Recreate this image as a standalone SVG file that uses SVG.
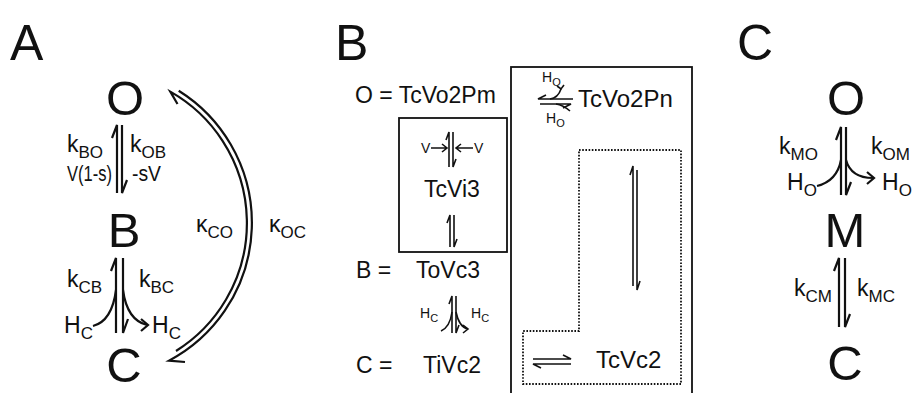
<svg xmlns="http://www.w3.org/2000/svg" width="912" height="393" viewBox="0 0 912 393">
<style>
.ln{fill:none;stroke:#111;stroke-width:2.2;stroke-linecap:butt;stroke-linejoin:miter}
.thin{fill:none;stroke:#111;stroke-width:1.6}
.t{font-family:"Liberation Sans",Arial,sans-serif;fill:#111}
.big{font-size:50px}
.node{font-size:49px}
.lab{font-size:23px}
.sub{font-size:17px}
.vs{font-size:22px}
.sm{font-size:14px}
.smsub{font-size:11px}
.mid{font-size:23px}
.box{fill:none;stroke:#111;stroke-width:1.8}
.dot{fill:none;stroke:#111;stroke-width:1.8;stroke-dasharray:1.6 1.6}
</style>
<rect width="912" height="393" fill="#fff"/>

<!-- Panel labels -->
<text class="t big" x="10" y="60">A</text>
<text class="t big" x="335" y="60">B</text>
<text class="t big" x="737" y="60">C</text>

<!-- Panel A nodes -->
<g id="A_O"><text class="t node" x="125" y="115" text-anchor="middle">O</text></g>
<g id="A_B"><text class="t node" x="124" y="247" text-anchor="middle">B</text></g>
<g id="A_C"><text class="t node" x="124" y="382" text-anchor="middle">C</text></g>

<!-- Panel A labels -->
<g id="A_labels">
<text class="t lab" x="67" y="152">k<tspan class="sub" dy="6">BO</tspan></text>
<text class="t lab" x="130" y="152">k<tspan class="sub" dy="6">OB</tspan></text>
<text class="t vs" x="67" y="181" textLength="45" lengthAdjust="spacingAndGlyphs">V(1-s)</text>
<text class="t vs" x="132" y="181" textLength="29" lengthAdjust="spacingAndGlyphs">-sV</text>
<text class="t lab" x="67" y="287">k<tspan class="sub" dy="6">CB</tspan></text>
<text class="t lab" x="139" y="287">k<tspan class="sub" dy="6">BC</tspan></text>
<text class="t lab" x="64" y="333">H<tspan class="sub" dy="6">C</tspan></text>
<text class="t lab" x="152" y="333">H<tspan class="sub" dy="6">C</tspan></text>
<text class="t lab" x="196" y="232">κ<tspan class="sub" dy="6">CO</tspan></text>
<text class="t lab" x="269" y="232">κ<tspan class="sub" dy="6">OC</tspan></text>
</g>

<!-- Panel B texts/nodes -->
<g id="B_O"><text class="t mid" x="355" y="103">O = TcVo2Pm</text></g>
<g id="B_Pn"><text class="t mid" x="578" y="107" style="font-size:24px">TcVo2Pn</text></g>
<g id="B_Vi3">
<rect class="box" x="399" y="118" width="108" height="134"/>
<text class="t mid" x="452" y="197" text-anchor="middle">TcVi3</text>
<text class="t sm" x="421" y="153">V</text>
<text class="t sm" x="474" y="153">V</text>
</g>
<g id="B_B"><text class="t mid" x="356" y="278">B =</text><text class="t mid" x="416" y="278">ToVc3</text></g>
<g id="B_C"><text class="t mid" x="356" y="373">C =</text><text class="t mid" x="423" y="373">TiVc2</text></g>
<g id="B_Vc2"><text class="t mid" x="596" y="368" style="font-size:24px">TcVc2</text></g>
<g id="B_box">
<rect class="box" x="511" y="67" width="181" height="345"/>
<path class="dot" d="M579 150 H681 V384 H523 V331 H579 Z"/>
</g>
<g id="B_labels">
<text class="t sm" x="420" y="318">H<tspan class="smsub" dy="4">C</tspan></text>
<text class="t sm" x="471" y="318">H<tspan class="smsub" dy="4">C</tspan></text>
<text class="t sm" x="542" y="82">H<tspan class="smsub" dy="4">O</tspan></text>
<text class="t sm" x="546" y="123">H<tspan class="smsub" dy="4">O</tspan></text>
</g>

<!-- Panel C -->
<g id="C_O"><text class="t node" x="846" y="115" text-anchor="middle">O</text></g>
<g id="C_M"><text class="t node" x="845" y="247" text-anchor="middle">M</text></g>
<g id="C_C"><text class="t node" x="845" y="380" text-anchor="middle">C</text></g>
<g id="C_labels">
<text class="t lab" x="779" y="154">k<tspan class="sub" dy="6">MO</tspan></text>
<text class="t lab" x="871" y="154">k<tspan class="sub" dy="6">OM</tspan></text>
<text class="t lab" x="787" y="190">H<tspan class="sub" dy="6">O</tspan></text>
<text class="t lab" x="882" y="190">H<tspan class="sub" dy="6">O</tspan></text>
<text class="t lab" x="794" y="296">k<tspan class="sub" dy="6">CM</tspan></text>
<text class="t lab" x="857" y="296">k<tspan class="sub" dy="6">MC</tspan></text>
</g>

<!-- Connectors -->
<g id="connectors">
<!-- A: O <-> B -->
<path class="ln" d="M117 193 V125 L112 138"/>
<path class="ln" d="M122 125 V193 L127 180"/>
<!-- A: B <-> C -->
<path class="ln" d="M116 333 V258 L111 271"/>
<path class="ln" d="M123 258 V333 L128 319"/>
<path class="ln" d="M93 326 Q112 321 116 290"/>
<path class="ln" d="M123 290 Q127 320 147 325"/>
<path class="ln" d="M141 319 L148 325 L141 331"/>
<!-- A: arcs O <-> C -->
<path class="ln" d="M178.7 90.7 A156 156 0 0 1 169 360.7 L185 362"/>
<path class="ln" d="M176 351 A151 151 0 0 0 170.3 91.6 L177.5 104"/>

<!-- B: small box upper pair with V arrows -->
<path class="thin" d="M449 167 V132 L446 140"/>
<path class="thin" d="M453 132 V167 L456 159"/>
<path class="thin" d="M431 148 H447 M442 144 L447 148 L442 152"/>
<path class="thin" d="M473 148 H456 M461 144 L456 148 L461 152"/>
<!-- B: small box lower pair -->
<path class="thin" d="M450 247 V215 L447 223"/>
<path class="thin" d="M454 215 V247 L457 239"/>
<!-- B: B <-> C with H_C -->
<path class="thin" d="M452 333 V296 L449 304"/>
<path class="thin" d="M456 296 V333 L459 325"/>
<path class="thin" d="M441 331 Q450 327 452 312"/>
<path class="thin" d="M456 312 Q459 327 468 329"/>
<path class="thin" d="M463 325 L468 329 L463 333"/>
<!-- B: O <-> Pn with H_O -->
<path class="thin" d="M573 99 H538 L546 95"/>
<path class="thin" d="M540 104 H571 L563 108"/>
<path class="thin" d="M550 99 Q558 98 561 89"/>
<path class="thin" d="M557 86 L561 89 L564 85"/>
<path class="thin" d="M556 104 Q563 105 570 111"/>
<!-- B: long vertical pair -->
<path class="thin" d="M633 286 V166 L630 175"/>
<path class="thin" d="M637 170 V290 L640 281"/>
<!-- B: horizontal pair near TcVc2 -->
<path class="thin" d="M533 359 H571 L563 355"/>
<path class="thin" d="M571 364 H533 L541 368"/>

<!-- C: O <-> M with H_O -->
<path class="ln" d="M841 195 V127 L836 140"/>
<path class="ln" d="M846 127 V195 L851 182"/>
<path class="ln" d="M817 186 Q837 181 841 160"/>
<path class="ln" d="M846 160 Q851 178 873 178"/>
<path class="ln" d="M867 172 L874 178 L867 184"/>
<!-- C: M <-> C -->
<path class="ln" d="M839 327 V258 L834 271"/>
<path class="ln" d="M845 258 V327 L850 314"/>
</g>
</svg>
